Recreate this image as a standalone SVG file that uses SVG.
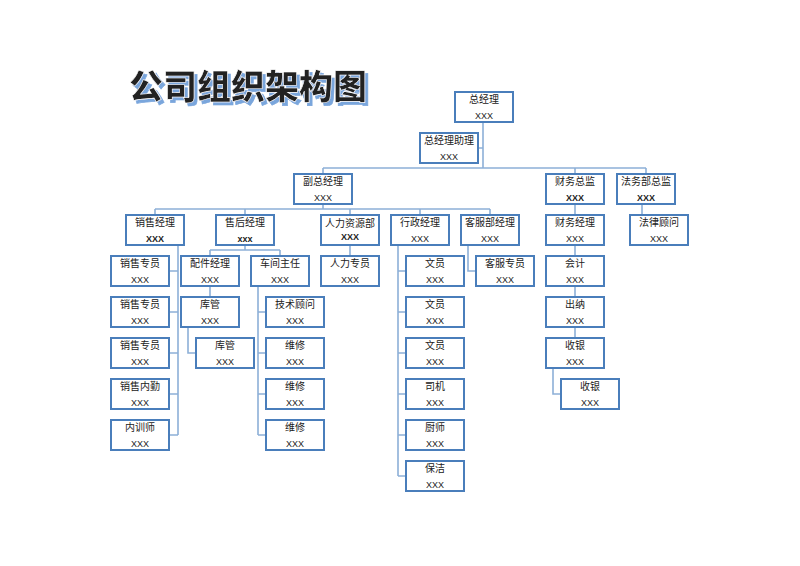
<svg xmlns="http://www.w3.org/2000/svg" width="800" height="566" viewBox="0 0 800 566">
<defs><filter id="sh" x="-10%" y="-30%" width="120%" height="160%"><feDropShadow dx="3" dy="3" stdDeviation="0.3" flood-color="#7aa6dc"/></filter></defs>
<style>
.b rect{fill:#fff;stroke:#4a7ebb;stroke-width:2}
.b text{font-family:"Liberation Serif","Noto Sans CJK SC",serif;font-size:10px;fill:#222;text-anchor:middle}
.b text.v{font-family:"Liberation Sans","Noto Sans CJK SC",sans-serif;font-size:9px}
.b text.k{font-weight:bold}
#c path{fill:none;stroke:#8db0d8;stroke-width:1.6}
.t{font-family:"Noto Sans CJK SC",sans-serif;font-weight:900;font-size:34px}
</style>
<rect width="800" height="566" fill="#fff"/>
<text class="t" x="129" y="99" fill="#222" stroke="#fff" stroke-width="0.6" filter="url(#sh)">公司组织架构图</text>
<g id="c">
<path d="M483 122V168M478 148H483M323 168H646M323 168V174M575 168V174M646 168V174"/>
<path d="M323 204V209M155 209H490M155 209V215M245 209V215M350 209V215M420 209V215M490 209V215"/>
<path d="M575 204V215M642 204V230H630"/>
<path d="M178 245V435M169 271H178M169 312H178M169 353H178M169 394H178M169 435H178"/>
<path d="M245 245V250M210 250H280M210 250V256M280 250V256M210 286V297M188 327V353H196"/>
<path d="M258 286V435M258 312H266M258 353H266M258 394H266M258 435H266"/>
<path d="M350 245V256"/>
<path d="M398 245V476M398 271H406M398 312H406M398 353H406M398 394H406M398 435H406M398 476H406"/>
<path d="M468 245V271H476"/>
<path d="M575 245V338M553 368V394H561"/>
</g>
<g id="n1" class="b"><rect x="455" y="92" width="58" height="30"/><text x="484" y="103">总经理</text><text class="v" x="484" y="119">XXX</text></g>
<g id="n2" class="b"><rect x="420" y="133" width="58" height="30"/><text x="449" y="144">总经理助理</text><text class="v" x="449" y="160">XXX</text></g>
<g id="n3" class="b"><rect x="294" y="174" width="58" height="30"/><text x="323" y="185">副总经理</text><text class="v" x="323" y="201">XXX</text></g>
<g id="n4" class="b"><rect x="546" y="174" width="58" height="30"/><text x="575" y="185">财务总监</text><text class="v k" x="575" y="201">XXX</text></g>
<g id="n5" class="b"><rect x="617" y="174" width="58" height="30"/><text x="646" y="185">法务部总监</text><text class="v k" x="646" y="201">XXX</text></g>
<g id="n6" class="b"><rect x="126" y="215" width="58" height="30"/><text x="155" y="226">销售经理</text><text class="v k" x="155" y="242">XXX</text></g>
<g id="n7" class="b"><rect x="216" y="215" width="58" height="30"/><text x="245" y="226">售后经理</text><text class="v k" x="245" y="242">xxx</text></g>
<g id="n8" class="b"><rect x="321" y="215" width="58" height="30"/><text x="350" y="227">人力资源部</text><text class="v k" x="350" y="240">XXX</text></g>
<g id="n9" class="b"><rect x="391" y="215" width="58" height="30"/><text x="420" y="226">行政经理</text><text class="v" x="420" y="242">XXX</text></g>
<g id="n10" class="b"><rect x="461" y="215" width="58" height="30"/><text x="490" y="226">客服部经理</text><text class="v" x="490" y="242">XXX</text></g>
<g id="n11" class="b"><rect x="546" y="215" width="58" height="30"/><text x="575" y="226">财务经理</text><text class="v" x="575" y="242">XXX</text></g>
<g id="n12" class="b"><rect x="630" y="215" width="58" height="30"/><text x="659" y="226">法律顾问</text><text class="v" x="659" y="242">XXX</text></g>
<g id="n13" class="b"><rect x="111" y="256" width="58" height="30"/><text x="140" y="267">销售专员</text><text class="v" x="140" y="283">XXX</text></g>
<g id="n14" class="b"><rect x="111" y="297" width="58" height="30"/><text x="140" y="308">销售专员</text><text class="v" x="140" y="324">XXX</text></g>
<g id="n15" class="b"><rect x="111" y="338" width="58" height="30"/><text x="140" y="349">销售专员</text><text class="v" x="140" y="365">XXX</text></g>
<g id="n16" class="b"><rect x="111" y="379" width="58" height="30"/><text x="140" y="390">销售内勤</text><text class="v" x="140" y="406">XXX</text></g>
<g id="n17" class="b"><rect x="111" y="420" width="58" height="30"/><text x="140" y="431">内训师</text><text class="v" x="140" y="447">XXX</text></g>
<g id="n18" class="b"><rect x="181" y="256" width="58" height="30"/><text x="210" y="267">配件经理</text><text class="v" x="210" y="283">XXX</text></g>
<g id="n19" class="b"><rect x="251" y="256" width="58" height="30"/><text x="280" y="267">车间主任</text><text class="v" x="280" y="283">XXX</text></g>
<g id="n20" class="b"><rect x="181" y="297" width="58" height="30"/><text x="210" y="308">库管</text><text class="v" x="210" y="324">XXX</text></g>
<g id="n21" class="b"><rect x="196" y="338" width="58" height="30"/><text x="225" y="349">库管</text><text class="v" x="225" y="365">XXX</text></g>
<g id="n22" class="b"><rect x="266" y="297" width="58" height="30"/><text x="295" y="308">技术顾问</text><text class="v" x="295" y="324">XXX</text></g>
<g id="n23" class="b"><rect x="266" y="338" width="58" height="30"/><text x="295" y="349">维修</text><text class="v" x="295" y="365">XXX</text></g>
<g id="n24" class="b"><rect x="266" y="379" width="58" height="30"/><text x="295" y="390">维修</text><text class="v" x="295" y="406">XXX</text></g>
<g id="n25" class="b"><rect x="266" y="420" width="58" height="30"/><text x="295" y="431">维修</text><text class="v" x="295" y="447">XXX</text></g>
<g id="n26" class="b"><rect x="321" y="256" width="58" height="30"/><text x="350" y="267">人力专员</text><text class="v" x="350" y="283">XXX</text></g>
<g id="n27" class="b"><rect x="406" y="256" width="58" height="30"/><text x="435" y="267">文员</text><text class="v" x="435" y="283">XXX</text></g>
<g id="n28" class="b"><rect x="406" y="297" width="58" height="30"/><text x="435" y="308">文员</text><text class="v" x="435" y="324">XXX</text></g>
<g id="n29" class="b"><rect x="406" y="338" width="58" height="30"/><text x="435" y="349">文员</text><text class="v" x="435" y="365">XXX</text></g>
<g id="n30" class="b"><rect x="406" y="379" width="58" height="30"/><text x="435" y="390">司机</text><text class="v" x="435" y="406">XXX</text></g>
<g id="n31" class="b"><rect x="406" y="420" width="58" height="30"/><text x="435" y="431">厨师</text><text class="v" x="435" y="447">XXX</text></g>
<g id="n32" class="b"><rect x="406" y="461" width="58" height="30"/><text x="435" y="472">保洁</text><text class="v" x="435" y="488">XXX</text></g>
<g id="n33" class="b"><rect x="476" y="256" width="58" height="30"/><text x="505" y="267">客服专员</text><text class="v" x="505" y="283">XXX</text></g>
<g id="n34" class="b"><rect x="546" y="256" width="58" height="30"/><text x="575" y="267">会计</text><text class="v" x="575" y="283">XXX</text></g>
<g id="n35" class="b"><rect x="546" y="297" width="58" height="30"/><text x="575" y="308">出纳</text><text class="v" x="575" y="324">XXX</text></g>
<g id="n36" class="b"><rect x="546" y="338" width="58" height="30"/><text x="575" y="349">收银</text><text class="v" x="575" y="365">XXX</text></g>
<g id="n37" class="b"><rect x="561" y="379" width="58" height="30"/><text x="590" y="390">收银</text><text class="v" x="590" y="406">XXX</text></g>
</svg>
